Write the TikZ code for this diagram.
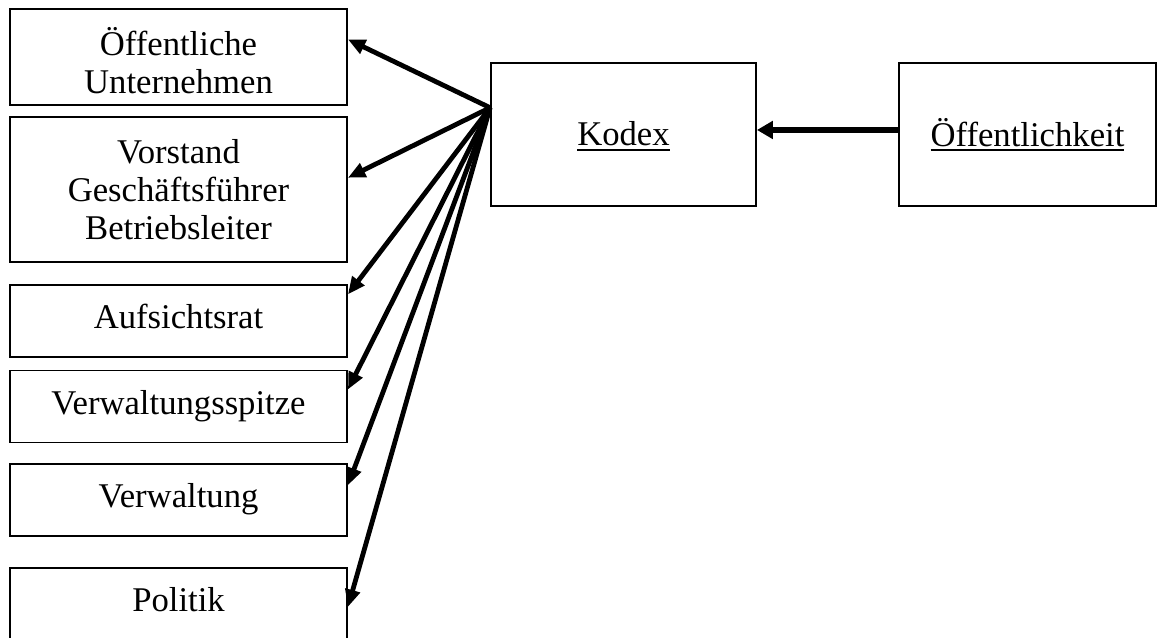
\documentclass[tikz,border=0pt]{standalone}
\usepackage{fontspec}
\setmainfont{Liberation Serif}
\usetikzlibrary{arrows.meta,calc}
\newcommand{\myul}[1]{\setbox0\hbox{#1}\rlap{\rule[-3.7pt]{\wd0}{1.5pt}}\box0}
\begin{document}
\begin{tikzpicture}[x=0.75pt,y=-0.75pt,
  box/.style={draw,line width=1.4pt,inner sep=0pt,align=center,
    font=\fontsize{26pt}{28.5pt}\selectfont},
  onebox/.style={box,text height=18pt,text depth=6.4pt},
  leftbox/.style={minimum width=252.75pt},
  arr/.style={line width=3.6pt,-{Triangle[length=13pt,width=11pt]}},
  harr/.style={line width=4.5pt,-{Triangle[length=12pt,width=13pt]}}]
\useasboundingbox (0,0) rectangle (1157,637);
% left boxes
\node[box,leftbox,minimum height=72pt] (b1) at (178.5,57) {\rule{0pt}{27pt}Öffentliche\\Unternehmen};
\node[box,leftbox,minimum height=108.75pt] (b2) at (178.5,189.5) {Vorstand\\Geschäftsführer\\Betriebsleiter};
\node[onebox,leftbox,minimum height=54pt] (b3) at (178.5,321) {Aufsichtsrat};
\node[onebox,leftbox,minimum height=54pt] (b4) at (178.5,406.5) {Verwaltungsspitze};
\node[onebox,leftbox,minimum height=54pt] (b5) at (178.5,500) {Verwaltung};
\node[onebox,leftbox,minimum height=54pt] (b6) at (178.5,604) {Politik};
% right boxes
\node[box,text height=18pt,text depth=1.3pt,minimum width=198.75pt,minimum height=107.25pt] (kodex) at (623.5,134.5) {\myul{Kodex}};
\node[box,text height=18pt,text depth=0.6pt,minimum width=192.75pt,minimum height=107.25pt] (oef) at (1027.5,134.5) {\myul{Öffentlichkeit}};
% fan origin and tips
\coordinate (o) at ($(kodex.north west)!0.315!(kodex.south west)$);
\coordinate (t1) at ($(b1.north east)!0.32!(b1.south east)$);
\coordinate (t2) at ($(b2.north east)!0.42!(b2.south east)$);
\coordinate (t3) at ($(b3.north east)!0.14!(b3.south east)$);
\coordinate (t4) at ($(b4.north east)!0.27!(b4.south east)$);
\coordinate (t5) at ($(b5.north east)!0.30!(b5.south east)$);
\coordinate (t6) at ($(b6.north east)!0.54!(b6.south east)$);
\foreach \t in {t1,t2,t3,t4,t5,t6} \draw[arr] (o) -- (\t);
\draw[harr] ([yshift=3.4pt]oef.west) -- ([yshift=3.4pt]kodex.east);
\end{tikzpicture}
\end{document}
